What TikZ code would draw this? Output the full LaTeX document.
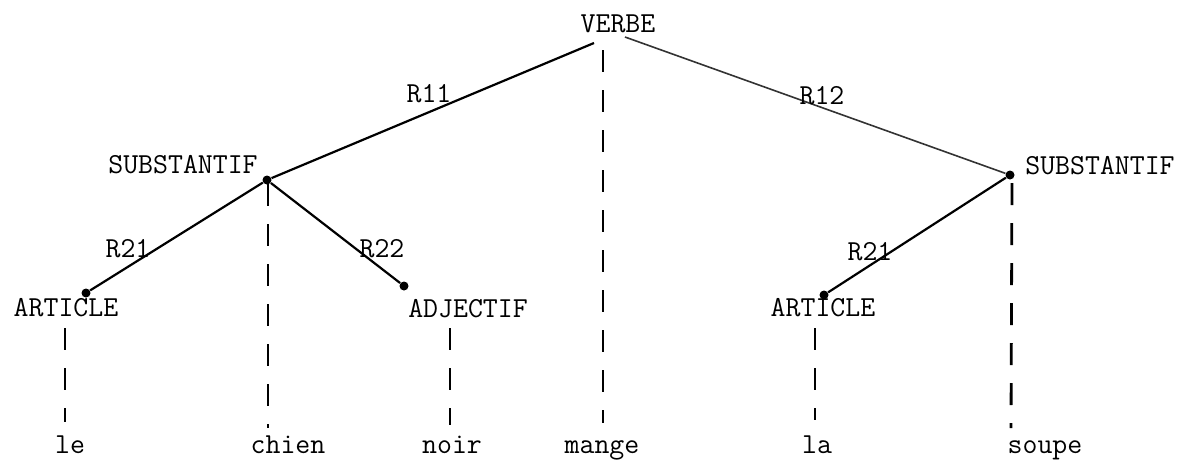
\documentclass[tikz,border=0pt]{standalone}
\usepackage{tikz}
\usetikzlibrary{positioning}
\tikzset{
  cat/.style={font=\ttfamily\fontsize{14.5}{17}\selectfont,inner sep=0pt,anchor=base},
  rlab/.style={cat},
  mot/.style={cat},
  dotnode/.style={circle,fill=black,inner sep=0pt,minimum size=4.5pt},
  rel/.style={line width=1.1pt},
  faint/.style={line width=0.8pt,draw=black!80},
  tige/.style={line width=1.4pt,dash pattern=on 11pt off 9pt}
}

\begin{document}
\begin{tikzpicture}[x=0.5pt,y=-0.5pt]
  \useasboundingbox (0,0) rectangle (1180,462);

  % top
  \node[cat] (verbe) at (618,32) {VERBE};
  \coordinate (p-verbe-l) at (594,43);
  \coordinate (p-verbe-r) at (625,37);

  % second level
  \node[cat] (substg) at (183,173) {SUBSTANTIF};
  \node[cat] (substd) at (1100,174) {SUBSTANTIF};
  \node[dotnode] (p-substg) at (267,180) {};
  \node[dotnode] (p-substd) at (1010,175) {};
  \draw[rel] (p-verbe-l) -- (p-substg);
  \draw[faint] (p-verbe-r) -- (p-substd);
  \node[rlab] (r11) at (429,102) {R11};
  \node[rlab] (r12) at (822,104) {R12};

  % third level
  \node[cat] (artg) at (66,316) {ARTICLE};
  \node[cat] (adj) at (468,317) {ADJECTIF};
  \node[cat] (artd) at (823,316) {ARTICLE};
  \node[dotnode] (p-artg) at (86,293) {};
  \node[dotnode] (p-adj) at (404,286) {};
  \node[dotnode] (p-artd) at (824,295) {};
  \draw[rel] (p-substg) -- (p-artg);
  \draw[rel] (p-substg) -- (p-adj);
  \draw[rel] (p-substd) -- (p-artd);
  \node[rlab] (r21g) at (128,257) {R21};
  \node[rlab] (r22) at (382,257) {R22};
  \node[rlab] (r21d) at (870,260) {R21};

  % words
  \node[mot] (w-le) at (70,453) {le};
  \node[mot] (w-chien) at (288,453) {chien};
  \node[mot] (w-noir) at (452,453) {noir};
  \node[mot] (w-mange) at (602,453) {mange};
  \node[mot] (w-la) at (817,453) {la};
  \node[mot] (w-soupe) at (1045,453) {soupe};

  % dashed stems
  \coordinate (t-le) at (65,328);    \coordinate (b-le) at (65,422);
  \coordinate (t-chien) at (268,184); \coordinate (b-chien) at (268,428);
  \coordinate (t-noir) at (450,328);  \coordinate (b-noir) at (450,425);
  \coordinate (t-mange) at (603,50);  \coordinate (b-mange) at (603,423);
  \coordinate (t-la) at (815,328);    \coordinate (b-la) at (815,420);
  \coordinate (t-soupe) at (1012,183); \coordinate (b-soupe) at (1011,428);
  \foreach \w in {le,chien,noir,mange,la,soupe}
    \draw[tige] (t-\w) -- (b-\w);
\end{tikzpicture}
\end{document}
